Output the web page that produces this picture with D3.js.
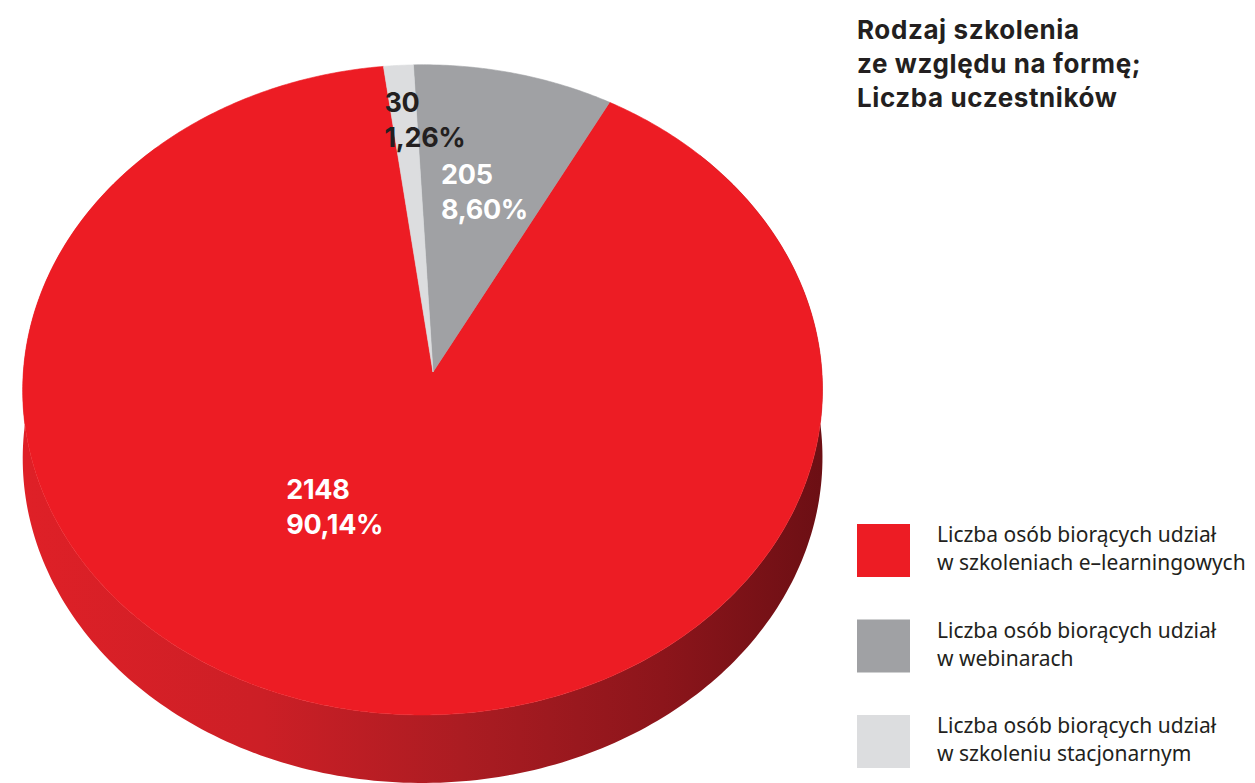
<!DOCTYPE html>
<html>
<head>
<meta charset="utf-8">
<script src="https://cdn.jsdelivr.net/npm/d3@7/dist/d3.min.js"></script>
<style>
  body { margin: 0; background: #fff; }
  svg { display: block; }
</style>
</head>
<body>
<div id="chart"></div>
<script>
// dane
const categories = ["e-learning", "webinary", "stacjonarne"];
const values = [2148, 205, 30];
const percentLabels = ["90,14%", "8,60%", "1,26%"];
const legendLines = [
    ["Liczba osób biorących udział", "w szkoleniach e\u2013learningowych"],
    ["Liczba osób biorących udział", "w webinarach"],
    ["Liczba osób biorących udział", "w szkoleniu stacjonarnym"]
];
const titleLines = ["Rodzaj szkolenia", "ze względu na formę;", "Liczba uczestników"];

const colors = ["#ed1c24", "#a0a1a4", "#dcdddf"];
const labelColors = ["#ffffff", "#ffffff", "#231f20"];

const width = 1255, height = 783;

// perspektywa tarczy: u w prawo, v "w głąb"
const P = { cx: 433, cy: 372, A: 399, B: 324, k: 0.055, m: 0.026, depth: 68 };
function proj(u, v, dy = 0) {
    const w = 1 + P.k * v + P.m * u;
    return [P.cx + P.A * u / w, P.cy - P.B * v / w + dy];
}
function rim(a, dy = 0) { return proj(Math.sin(a), Math.cos(a), dy); }

const drawOrder = [2, 1, 0]; // od góry zgodnie z ruchem wskazówek: stacjonarne, webinary, e-learning
const pie = d3.pie()
    .value(d => d.value)
    .sort((a, b) => drawOrder.indexOf(a.i) - drawOrder.indexOf(b.i))
    .startAngle(-7.5 * Math.PI / 180)
    .endAngle(-7.5 * Math.PI / 180 + 2 * Math.PI);

const arcs = pie(values.map((v, i) => ({ i, value: v, name: categories[i] })));

const svg = d3.select("#chart").append("svg")
    .attr("width", width)
    .attr("height", height);

const defs = svg.append("defs");
const grad = defs.append("linearGradient")
    .attr("id", "side")
    .attr("gradientUnits", "userSpaceOnUse")
    .attr("x1", 22).attr("x2", 823).attr("y1", 0).attr("y2", 0);
[[0, "#df2027"], [0.3, "#cc1f26"], [0.55, "#ab1c22"], [0.8, "#8c151b"], [1, "#6c0f14"]]
    .forEach(([o, c]) => grad.append("stop").attr("offset", o).attr("stop-color", c));

const line = d3.line();
const rad = Math.PI / 180;

// boczna ściana
const sideTop = d3.range(45, 315.5, 1).map(a => rim(a * rad));
const sideBottom = d3.range(315, 44.5, -1).map(a => rim(a * rad, P.depth));
svg.append("path")
    .attr("d", line(sideTop.concat(sideBottom)) + "Z")
    .attr("fill", "url(#side)");

// górna powierzchnia
svg.append("g").selectAll("path")
    .data(arcs)
    .join("path")
    .attr("d", d => {
        const n = Math.max(4, Math.ceil((d.endAngle - d.startAngle) / (0.5 * rad)));
        const pts = [proj(0, 0)];
        for (let j = 0; j <= n; j++) pts.push(rim(d.startAngle + (d.endAngle - d.startAngle) * j / n));
        return line(pts) + "Z";
    })
    .attr("fill", d => colors[d.data.i])
    .attr("stroke", d => colors[d.data.i])
    .attr("stroke-width", 0.6);

// etykiety
const labelOffset = [[-114, -20], [-38, -20], [-18, 11]];
const labelR = [0.45, 0.55, 0.88];
const labels = svg.append("g")
    .style("font-family", "Inter, 'Open Sans', sans-serif")
    .style("font-weight", 700)
    .style("font-size", "27px");
arcs.forEach(d => {
    const i = d.data.i;
    const mid = (d.startAngle + d.endAngle) / 2;
    const r = labelR[i];
    const [x, y] = proj(r * Math.sin(mid), r * Math.cos(mid));
    const t = labels.append("text")
        .attr("x", x + labelOffset[i][0])
        .attr("y", y + labelOffset[i][1])
        .attr("fill", labelColors[i])
        .style("letter-spacing", "-0.3px");
    t.append("tspan").attr("x", x + labelOffset[i][0]).text(values[i]);
    t.append("tspan").attr("x", x + labelOffset[i][0]).attr("dy", 35).text(percentLabels[i]);
});

// tytuł
svg.append("g").selectAll("text")
    .data(titleLines)
    .join("text")
    .attr("x", 857)
    .attr("y", (d, i) => 39 + i * 34)
    .attr("fill", "#231f20")
    .style("font-family", "Inter, 'Open Sans', sans-serif")
    .style("font-weight", 700)
    .style("font-size", "26px")
    .style("letter-spacing", "0.6px")
    .text(d => d);

// legenda
const legend = svg.append("g").selectAll("g")
    .data(categories)
    .join("g")
    .attr("transform", (d, i) => `translate(857,${524 + i * 95.5})`);
legend.append("rect")
    .attr("width", 53).attr("height", 53)
    .attr("fill", (d, i) => colors[i]);
legend.each(function (d, i) {
    d3.select(this).selectAll("text")
        .data(legendLines[i])
        .join("text")
        .attr("x", 80)
        .attr("y", (t, j) => 18 + j * 28)
        .attr("fill", "#231f20")
        .style("font-family", "'Noto Sans', sans-serif")
        .style("font-size", "21px")
        .text(t => t);
});
</script>
</body>
</html>
